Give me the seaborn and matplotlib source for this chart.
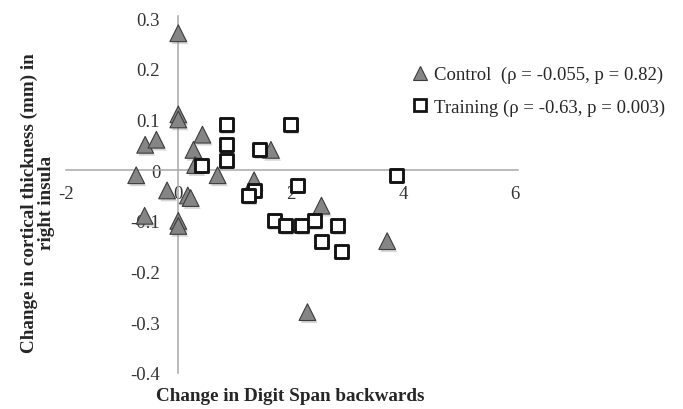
import matplotlib
matplotlib.use("Agg")
import matplotlib.pyplot as plt
import matplotlib.patheffects as pe
from matplotlib.lines import Line2D
import numpy as np
import pandas as pd
import seaborn as sns

# Change in Digit Span backwards (x) vs change in cortical thickness (y)
control_x = [0.0, 0.0, 0.0, 0.43, -0.59, -0.39, 0.27, 0.30, 0.70, -0.75, -0.20,
             0.17, 0.22, -0.60, 0.0, 0.0, 1.65, 1.35, 2.55, 3.72, 2.30]
control_y = [0.27, 0.11, 0.10, 0.07, 0.05, 0.06, 0.04, 0.01, -0.01, -0.01, -0.04,
             -0.05, -0.055, -0.09, -0.10, -0.11, 0.04, -0.02, -0.07, -0.14, -0.28]

training_x = [0.42, 0.85, 0.85, 0.85, 1.45, 2.00, 1.35, 1.25, 2.12, 3.88,
              1.71, 1.91, 2.20, 2.43, 2.84, 2.55, 2.90]
training_y = [0.01, 0.09, 0.05, 0.02, 0.04, 0.09, -0.04, -0.05, -0.03, -0.01,
              -0.10, -0.11, -0.11, -0.10, -0.11, -0.14, -0.16]

x_ticks = [-2, 0, 2, 4, 6]
y_ticks = [-0.4, -0.3, -0.2, -0.1, 0, 0.1, 0.2, 0.3]
y_tick_labels = ["-0.4", "-0.3", "-0.2", "-0.1", "0", "0.1", "0.2", "0.3"]

control_label = "Control  (\u03c1 = -0.055, p = 0.82)"
training_label = "Training (\u03c1 = -0.63, p = 0.003)"

sns.set_style("white")
plt.rcParams["font.family"] = ["Liberation Serif", "DejaVu Serif"]

control = pd.DataFrame({"x": control_x, "y": control_y})
training = pd.DataFrame({"x": training_x, "y": training_y})

fig = plt.figure(figsize=(6.83, 4.10), dpi=100)
ax = fig.add_axes([66 / 683, 1 - 374 / 410, 452 / 683, 357.5 / 410])

shadow = [pe.SimplePatchShadow(offset=(1.2, -1.8), shadow_rgbFace="0.55", alpha=0.35),
          pe.Normal()]

sns.scatterplot(data=control, x="x", y="y", ax=ax, marker="^", s=145,
                color="#858585", edgecolor="#3c3c3c", linewidth=0.8, zorder=3)
sns.scatterplot(data=training, x="x", y="y", ax=ax, marker="s", s=88,
                color="white", edgecolor="#141414", linewidth=2.1, zorder=4)
for coll in ax.collections:
    coll.set_path_effects(shadow)

ax.set_xlim(-2, 6.05)
ax.set_ylim(-0.4, 0.305)

# axes cross at the origin, Excel style
for side in ("top", "right"):
    ax.spines[side].set_visible(False)
ax.spines["left"].set_position(("data", 0))
ax.spines["bottom"].set_position(("data", 0))
for side in ("left", "bottom"):
    ax.spines[side].set_color("#a8a8a8")
    ax.spines[side].set_linewidth(1.1)
    ax.spines[side].set_zorder(1)

ax.set_xticks(x_ticks)
ax.set_xticklabels([str(v) for v in x_ticks])
ax.set_yticks(y_ticks)
ax.set_yticklabels(y_tick_labels)
ax.tick_params(axis="both", length=0, labelsize=13.5, labelcolor="#333333")
ax.tick_params(axis="x", pad=11)
ax.tick_params(axis="y", pad=13)
ax.grid(False)

ax.set_xlabel("Change in Digit Span backwards", fontsize=13.8, fontweight="bold",
              va="center")
ax.xaxis.set_label_coords(0.496, -0.064)
ax.set_ylabel("Change in cortical thickness (mm) in\nright insula", fontsize=13.8,
              fontweight="bold", va="center", ha="center", multialignment="center",
              linespacing=0.95)
ax.yaxis.set_label_coords(-0.062, 0.478)

handles = [
    Line2D([], [], linestyle="none", marker="^", markersize=10.5,
           markerfacecolor="#858585", markeredgecolor="#3c3c3c", markeredgewidth=0.8),
    Line2D([], [], linestyle="none", marker="s", markersize=9,
           markerfacecolor="white", markeredgecolor="#141414", markeredgewidth=2.0),
]
fig.legend(handles, [control_label, training_label], loc="upper left",
           bbox_to_anchor=(412 / 683, 1 - 67 / 410), frameon=False, fontsize=13.5,
           handlelength=0.8, handletextpad=0.4, borderpad=0, borderaxespad=0,
           labelspacing=0.8)

fig.savefig("out.png", dpi=100)
